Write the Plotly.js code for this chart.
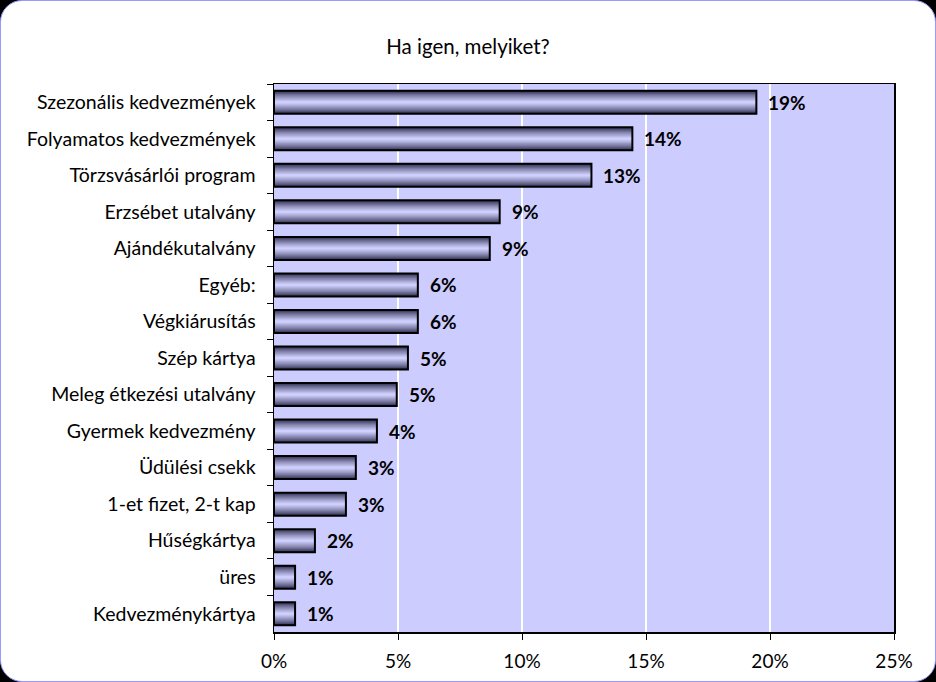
<!DOCTYPE html>
<html>
<head>
<meta charset="utf-8">
<script src="https://cdn.plot.ly/plotly-3.0.1.min.js"></script>
<style>
  html, body { margin: 0; padding: 0; background: #000; }
  #panel {
    position: absolute; left: 0; top: 0;
    width: 934px; height: 680px;
    background: #fff;
    border: 1px solid #9999ff;
    border-radius: 22px;
    overflow: hidden;
  }
  #chart { position: absolute; left: -1px; top: -1px; width: 936px; height: 682px; }
</style>
</head>
<body>
<div id="panel"><div id="chart"></div></div>
<script>
const categories = [
  "Szezonális kedvezmények",
  "Folyamatos kedvezmények",
  "Törzsvásárlói program",
  "Erzsébet utalvány",
  "Ajándékutalvány",
  "Egyéb:",
  "Végkiárusítás",
  "Szép kártya",
  "Meleg étkezési utalvány",
  "Gyermek kedvezmény",
  "Üdülési csekk",
  "1-et fizet, 2-t kap",
  "Hűségkártya",
  "üres",
  "Kedvezménykártya"
];
const values = [19.45, 14.45, 12.8, 9.1, 8.7, 5.8, 5.8, 5.4, 4.95, 4.15, 3.3, 2.9, 1.65, 0.85, 0.85];
const valueLabels = ["19%", "14%", "13%", "9%", "9%", "6%", "6%", "5%", "5%", "4%", "3%", "3%", "2%", "1%", "1%"];
const xTickVals = [0, 5, 10, 15, 20, 25];
const xTickText = ["0%", "5%", "10%", "15%", "20%", "25%"];

const FONT = "Lato, 'Open Sans', 'DejaVu Sans', sans-serif";
const barWidth = 0.63;
const layers = 12;
const dark = [44, 44, 78];
const light = [208, 208, 255];

const traces = [];
for (let i = 0; i < layers; i++) {
  const t = i / (layers - 1);
  const e = Math.pow(t, 0.8);
  const c = dark.map((d, k) => Math.round(d + (light[k] - d) * e));
  traces.push({
    type: "bar",
    orientation: "h",
    x: values,
    y: categories,
    width: barWidth * (1 - i / layers),
    marker: { color: `rgb(${c[0]},${c[1]},${c[2]})`, line: { width: 0 } },
    hoverinfo: "skip",
    showlegend: false
  });
}
// outline on top
traces.push({
  type: "bar",
  orientation: "h",
  x: values,
  y: categories,
  width: barWidth,
  marker: { color: "rgba(0,0,0,0)", line: { color: "#000", width: 2 } },
  hoverinfo: "skip",
  showlegend: false
});

const annotations = values.map((v, i) => ({
  x: v,
  y: categories[i],
  xref: "x",
  yref: "y",
  text: valueLabels[i],
  showarrow: false,
  xanchor: "left",
  yanchor: "middle",
  xshift: 10,
  font: { family: FONT, size: 19, color: "#000", weight: "bold" }
}));

const layout = {
  width: 936,
  height: 682,
  paper_bgcolor: "rgba(0,0,0,0)",
  plot_bgcolor: "#ccccff",
  barmode: "overlay",
  margin: { l: 274, r: 42, t: 84, b: 50 },
  title: {
    text: "Ha igen, melyiket?",
    font: { family: FONT, size: 20.5, color: "#000" },
    x: 0.5, xref: "container", xanchor: "center",
    y: 1 - 47 / 682, yref: "container", yanchor: "middle"
  },
  font: { family: FONT, size: 18, color: "#000" },
  annotations: annotations,
  xaxis: {
    range: [0, 25],
    tickvals: xTickVals,
    ticktext: xTickText,
    showgrid: true,
    gridcolor: "#ffffff",
    gridwidth: 2,
    zeroline: false,
    showline: true,
    linecolor: "#000",
    linewidth: 1.5,
    mirror: true,
    ticks: "outside",
    ticklen: 6,
    tickcolor: "#000",
    ticklabelstandoff: 6,
    tickfont: { family: FONT, size: 19, color: "#000" },
    fixedrange: true
  },
  yaxis: {
    type: "category",
    autorange: "reversed",
    tickson: "boundaries",
    ticks: "outside",
    ticklen: 6,
    tickcolor: "#000",
    showgrid: false,
    showline: true,
    linecolor: "#000",
    linewidth: 1.5,
    mirror: true,
    ticklabelstandoff: 13,
    tickfont: { family: FONT, size: 19.5, color: "#000" },
    fixedrange: true
  }
};

Plotly.newPlot("chart", traces, layout, { displayModeBar: false, staticPlot: true });
</script>
</body>
</html>
